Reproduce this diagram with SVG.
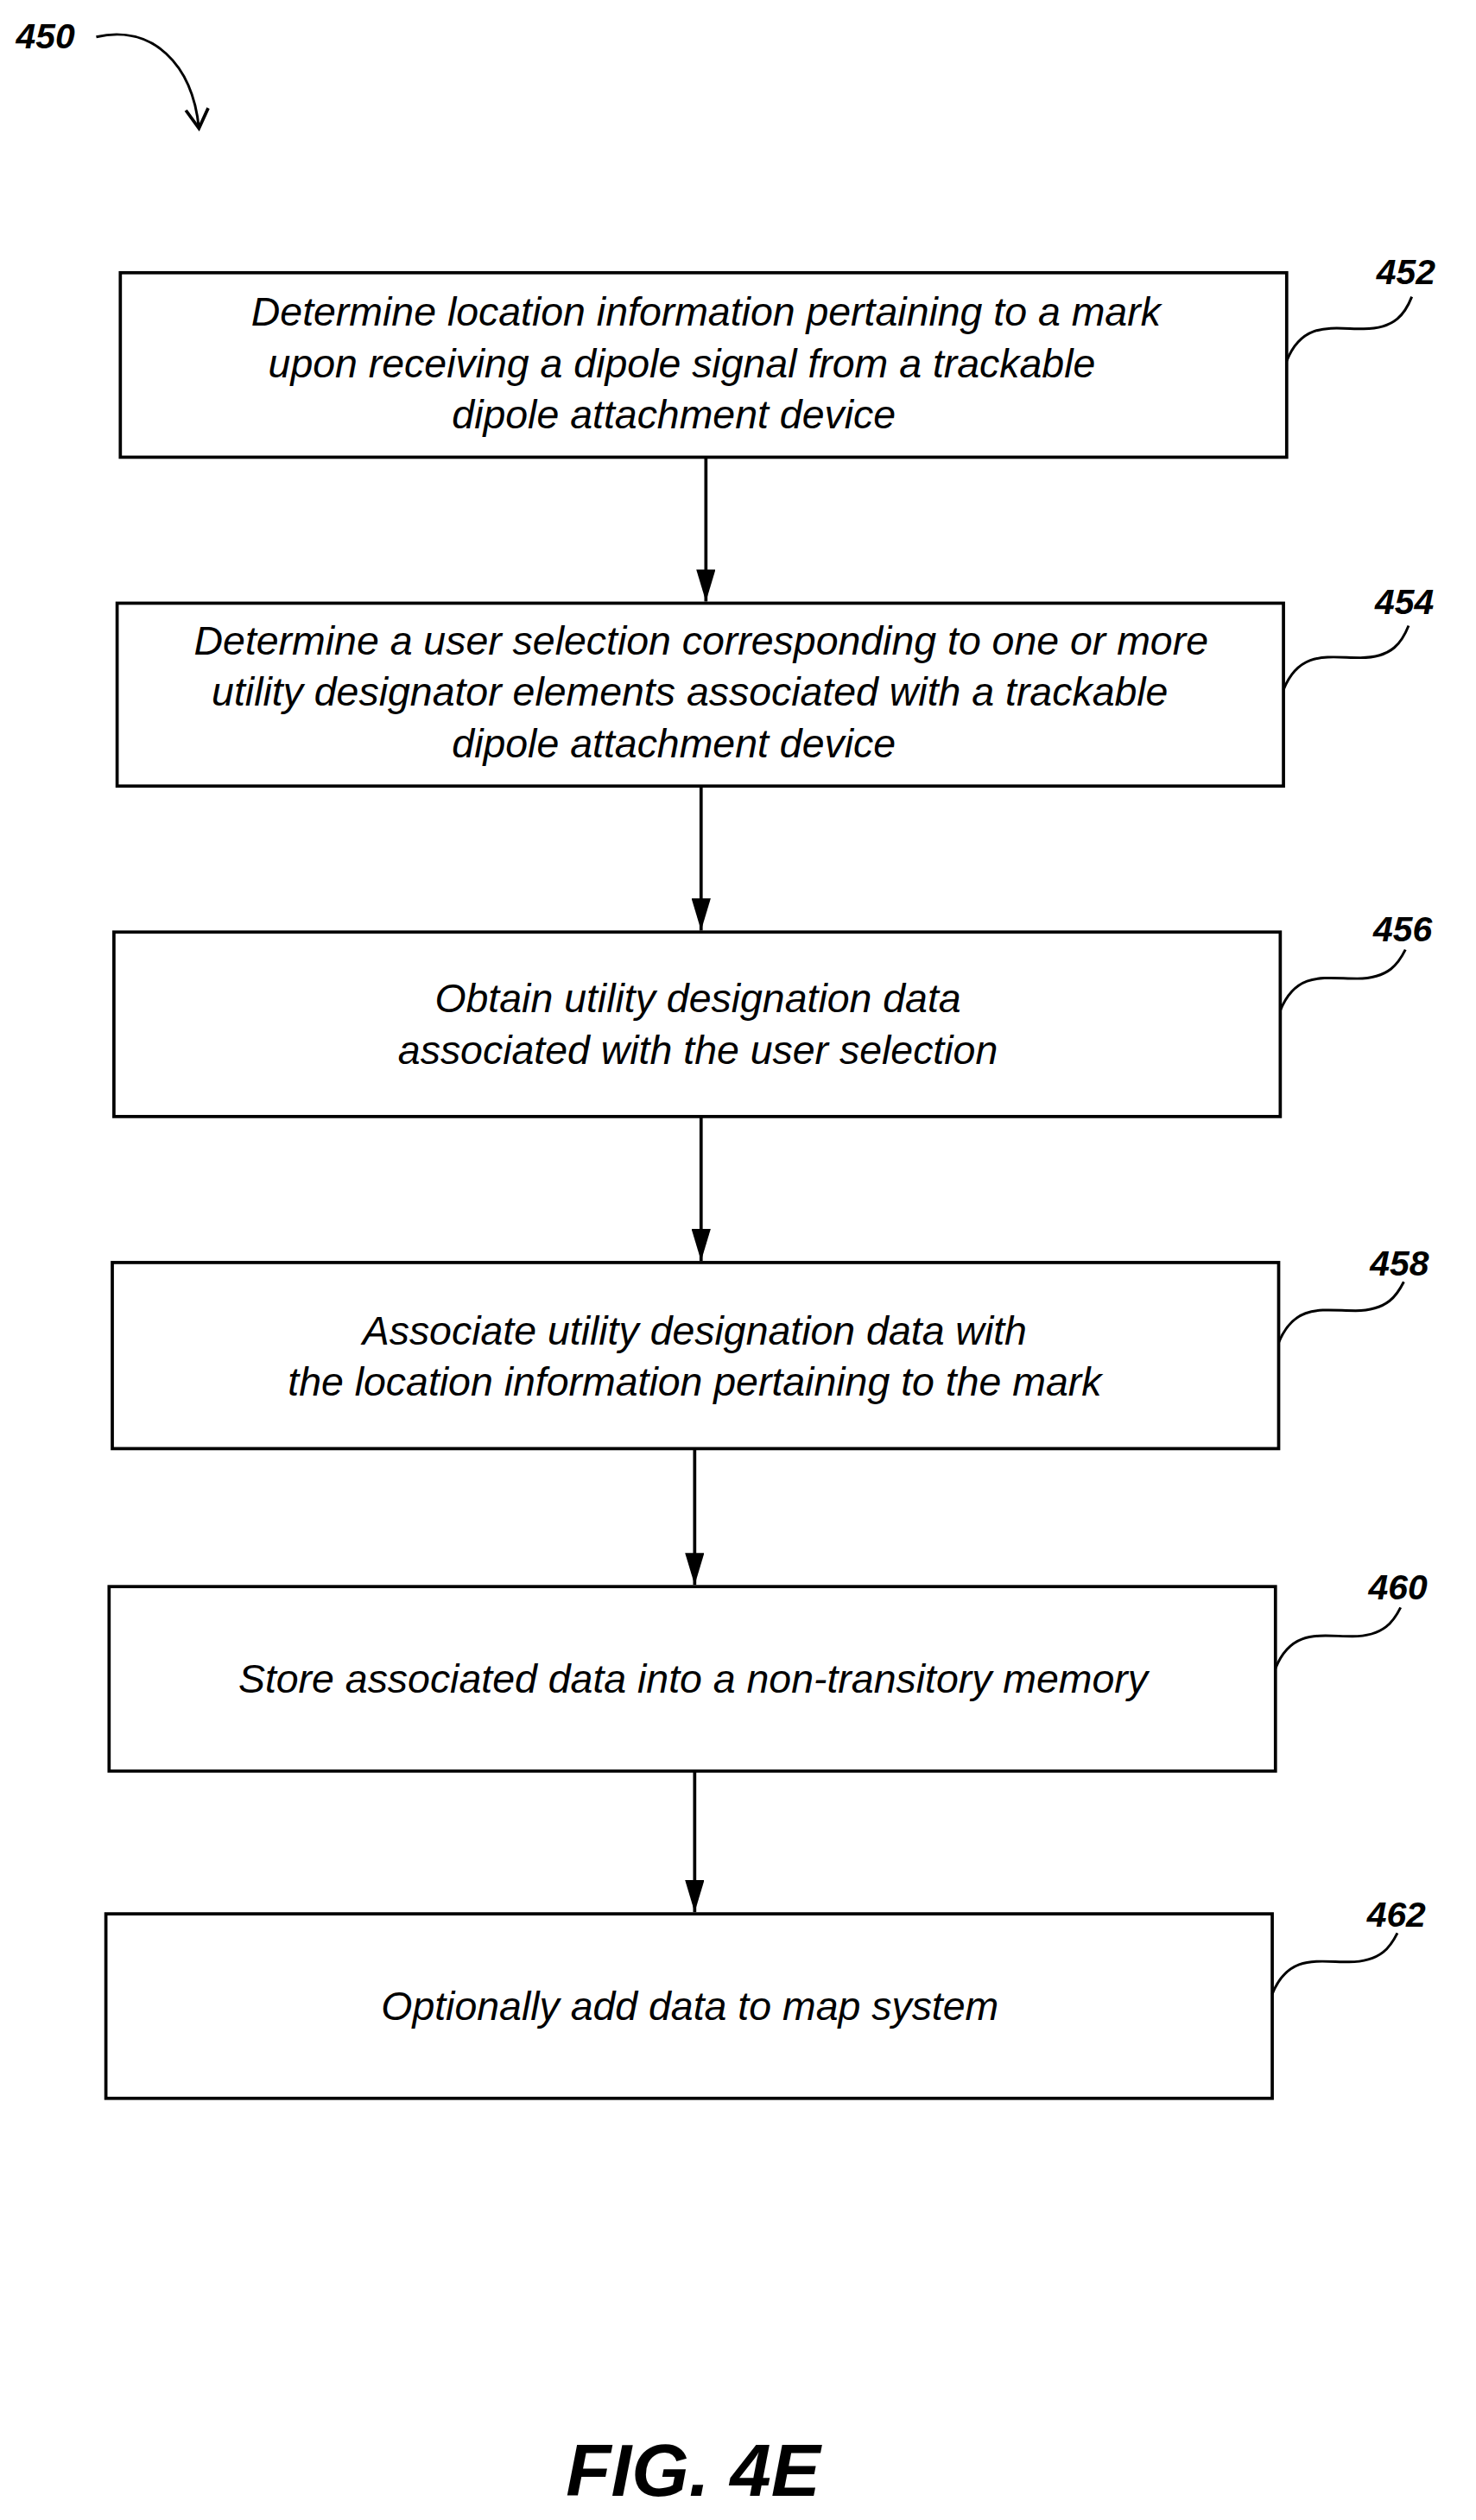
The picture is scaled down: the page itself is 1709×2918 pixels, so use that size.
<svg xmlns="http://www.w3.org/2000/svg" width="1709" height="2918" viewBox="0 0 1709 2918">
<defs>
<marker id="ah" markerWidth="12" markerHeight="20" refX="6" refY="20" orient="auto-start-reverse" markerUnits="userSpaceOnUse" viewBox="0 0 12 20">
<path d="M0,0 L12,0 L6,20 Z" fill="#000" transform="rotate(-90 6 10) translate(-4 4)"/>
</marker>
<marker id="ah2" markerWidth="20" markerHeight="12" refX="20" refY="6" orient="auto" markerUnits="userSpaceOnUse" viewBox="0 0 20 12">
<path d="M0,0 L20,6 L0,12 Z" fill="#000"/>
</marker>
<marker id="oh" markerWidth="16" markerHeight="16" refX="14" refY="8" orient="auto" markerUnits="userSpaceOnUse" viewBox="0 0 16 16">
<path d="M2,1 L14,8 L2,15" fill="none" stroke="#000" stroke-width="2"/>
</marker>
</defs>
<style>
.box{fill:#fff;stroke:#000;stroke-width:2}
.t{font-family:"Liberation Sans",Arial,sans-serif;font-style:italic;font-size:25px;text-anchor:middle;fill:#000}
.lbl{font-family:"Liberation Sans",Arial,sans-serif;font-style:italic;font-weight:bold;font-size:22px;fill:#000}
.ld{fill:none;stroke:#000;stroke-width:1.6}
.c{stroke:#000;stroke-width:2;fill:none}
</style>
<rect width="1709" height="2918" fill="#fff"/>
<g transform="scale(1.8576)">
<g id="ref450">
<text class="lbl" x="10" y="30">450</text>
<path class="ld" d="M60,23 C95,15 120,40 124,80" marker-end="url(#oh)"/>
</g>
<g id="n452">
<rect class="box" x="75" y="170" width="727" height="115"/>
<text class="t" x="440" y="203">Determine location information pertaining to a mark</text>
<text class="t" x="425" y="235">upon receiving a dipole signal from a trackable</text>
<text class="t" x="420" y="267">dipole attachment device</text>
<text class="lbl" x="858" y="177">452</text>
<path class="ld" d="M802,225 C812,200 830,205 850,205 C870,205 876,195 880,185"/>
</g>
<g id="n454">
<rect class="box" x="73" y="376" width="727" height="114"/>
<text class="t" x="437" y="408">Determine a user selection corresponding to one or more</text>
<text class="t" x="430" y="440">utility designator elements associated with a trackable</text>
<text class="t" x="420" y="472">dipole attachment device</text>
<text class="lbl" x="857" y="383">454</text>
<path class="ld" d="M800,430 C810,405 828,410 848,410 C868,410 874,400 878,390"/>
</g>
<g id="n456">
<rect class="box" x="71" y="581" width="727" height="115"/>
<text class="t" x="435" y="631">Obtain utility designation data</text>
<text class="t" x="435" y="663">associated with the user selection</text>
<text class="lbl" x="856" y="587">456</text>
<path class="ld" d="M798,630 C808,605 826,610 846,610 C866,610 872,600 876,592"/>
</g>
<g id="n458">
<rect class="box" x="70" y="787" width="727" height="116"/>
<text class="t" x="433" y="838">Associate utility designation data with</text>
<text class="t" x="433" y="870">the location information pertaining to the mark</text>
<text class="lbl" x="854" y="795">458</text>
<path class="ld" d="M797,837 C807,812 825,817 845,817 C865,817 871,807 875,799"/>
</g>
<g id="n460">
<rect class="box" x="68" y="989" width="727" height="115"/>
<text class="t" x="432" y="1055">Store associated data into a non-transitory memory</text>
<text class="lbl" x="853" y="997">460</text>
<path class="ld" d="M795,1040 C805,1015 823,1020 843,1020 C863,1020 869,1010 873,1002"/>
</g>
<g id="n462">
<rect class="box" x="66" y="1193" width="727" height="115"/>
<text class="t" x="430" y="1259">Optionally add data to map system</text>
<text class="lbl" x="852" y="1201">462</text>
<path class="ld" d="M793,1243 C803,1218 821,1223 841,1223 C861,1223 867,1213 871,1205"/>
</g>
<g id="connectors">
<line class="c" x1="440" y1="285" x2="440" y2="375" marker-end="url(#ah2)"/>
<line class="c" x1="437" y1="490" x2="437" y2="580" marker-end="url(#ah2)"/>
<line class="c" x1="437" y1="696" x2="437" y2="786" marker-end="url(#ah2)"/>
<line class="c" x1="433" y1="903" x2="433" y2="988" marker-end="url(#ah2)"/>
<line class="c" x1="433" y1="1104" x2="433" y2="1192" marker-end="url(#ah2)"/>
</g>
<text x="432" y="1556" style="font-family:'Liberation Sans',Arial,sans-serif;font-style:italic;font-weight:bold;font-size:46px;text-anchor:middle">FIG. 4E</text>
</g>
</svg>
